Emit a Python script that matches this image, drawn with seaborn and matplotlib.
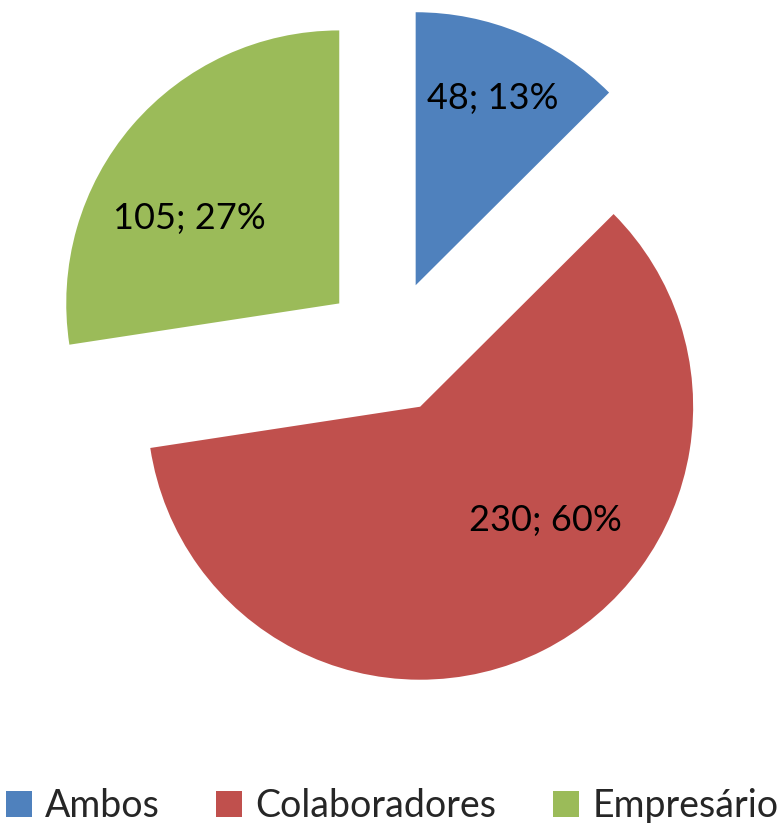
import matplotlib
matplotlib.use("Agg")
import matplotlib.pyplot as plt
import seaborn as sns
import numpy as np

# Datos
categorias = ["Ambos", "Colaboradores", "Empresário"]
valores = [48, 230, 105]
porcentajes = [13, 60, 27]
colores = ["#4F81BD", "#C0504D", "#9BBB59"]

sns.set_theme(style="white")
plt.rcParams["font.family"] = ["Lato", "DejaVu Sans"]

fig = plt.figure(figsize=(7.84, 8.23), dpi=100)
ax = fig.add_axes([0, 0, 1, 1])

wedges, _ = ax.pie(
    valores,
    colors=colores,
    startangle=90,
    counterclock=False,
    explode=[0.245] * 3,
    radius=1,
    wedgeprops=dict(linewidth=0),
)

# etiquetas "valor; %" dentro de cada porción
ajustes = [(0.74, 0), (0.62, 21), (0.63, 11)]
for w, v, p, (dist, delta) in zip(wedges, valores, porcentajes, ajustes):
    ang = np.deg2rad((w.theta1 + w.theta2) / 2 + delta)
    cx, cy = w.center
    ax.text(cx + dist * np.cos(ang), cy + dist * np.sin(ang), f"{v}; {p}%",
            ha="center", va="center", fontsize=26, color="black")

# escala: radio = 273 px, centro en (390, 347)
r_px = 273
ax.set_xlim(-390 / r_px, (784 - 390) / r_px)
ax.set_ylim(-(823 - 347) / r_px, 347 / r_px)
ax.set_aspect("equal")
ax.axis("off")

fig.legend(wedges, categorias, loc="lower center", ncol=3, frameon=False,
           fontsize=27, handlelength=0.7, handleheight=0.7, handletextpad=0.35,
           columnspacing=1.5, bbox_to_anchor=(0.5, -0.042))

fig.savefig("out.png", dpi=100)
